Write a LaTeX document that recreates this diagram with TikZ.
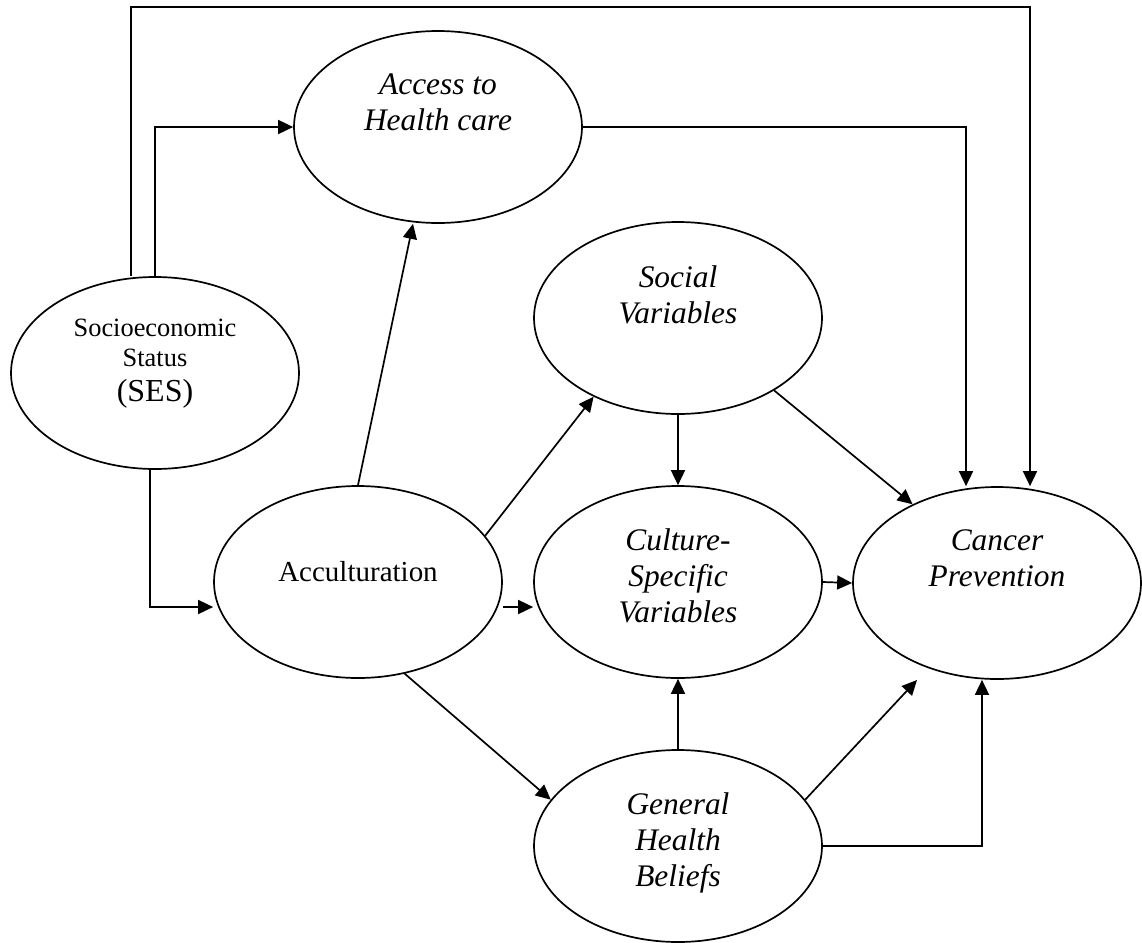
\documentclass[tikz,border=0pt]{standalone}
\usepackage{fontspec}
\setmainfont{Liberation Serif}
\usetikzlibrary{shapes.geometric,arrows.meta,calc}
\tikzset{
	oval/.style={draw, ellipse, minimum width=144pt, minimum height=96pt, inner sep=0pt},
	varlab/.style={align=center, font=\fontsize{15.7}{18}\selectfont\itshape},
	plainlab/.style={align=center, font=\fontsize{14.5}{17}\selectfont},
	seslab/.style={align=center, font=\fontsize{13.2}{15}\selectfont}
}

\begin{document}
\begin{tikzpicture}[x=0.5pt, y=-0.5pt, line width=0.85pt, >={Triangle[length=7.5pt, width=7pt]}]
	\useasboundingbox (0,0) rectangle (1142,943);
	\node[oval, label={[varlab, yshift=12.3pt]center:{Access to\\Health care}}] (access) at (438,127) {};
	\node[oval, label={[seslab, yshift=4.7pt]center:{Socioeconomic\\Status\\[2.5pt]{\fontsize{16}{19}\selectfont (SES)}}}] (ses) at (155,373) {};
	\node[oval, label={[varlab, yshift=11.8pt]center:{Social\\Variables}}] (social) at (678,318) {};
	\node[oval, label={[plainlab, yshift=5pt]center:{Acculturation}}] (accult) at (358,582) {};
	\node[oval, label={[varlab, yshift=3pt]center:{Culture-\\Specific\\Variables}}] (culture) at (678,582) {};
	\node[oval, label={[varlab, yshift=12.5pt]center:{Cancer\\Prevention}}] (cancer) at (997,583) {};
	\node[oval, label={[varlab, yshift=1.5pt]center:{General\\Health\\Beliefs}}] (general) at (678,846) {};
	\coordinate (topline) at (1030,7);
	\draw[->] ([xshift=-12pt]ses.north) |- (topline) -- (topline |- cancer.north);
	\draw[->] (ses.north) |- (access.west);
	\draw[->] (access.east) -| ([xshift=-15.5pt]cancer.north);
	\draw[->] ([xshift=-2.5pt]ses.south) |- ([yshift=-12.5pt]accult.west);
	\draw[->] (general.east) -| ([xshift=-7.5pt]cancer.south);
	\path[->]
		(accult.north) edge ([xshift=-12.5pt]access.south)
		(accult.20) edge (social.223)
		([yshift=-12.5pt]accult.east) edge ([yshift=-12.5pt]culture.west)
		(accult.297) edge (general.160)
		(social.south) edge (culture.north)
		(social.323) edge (cancer.137)
		(culture.east) edge (cancer.west)
		(general.north) edge (culture.south)
		(general.20) edge ($(cancer.center)+(-80,97)$);
\end{tikzpicture}
\end{document}
